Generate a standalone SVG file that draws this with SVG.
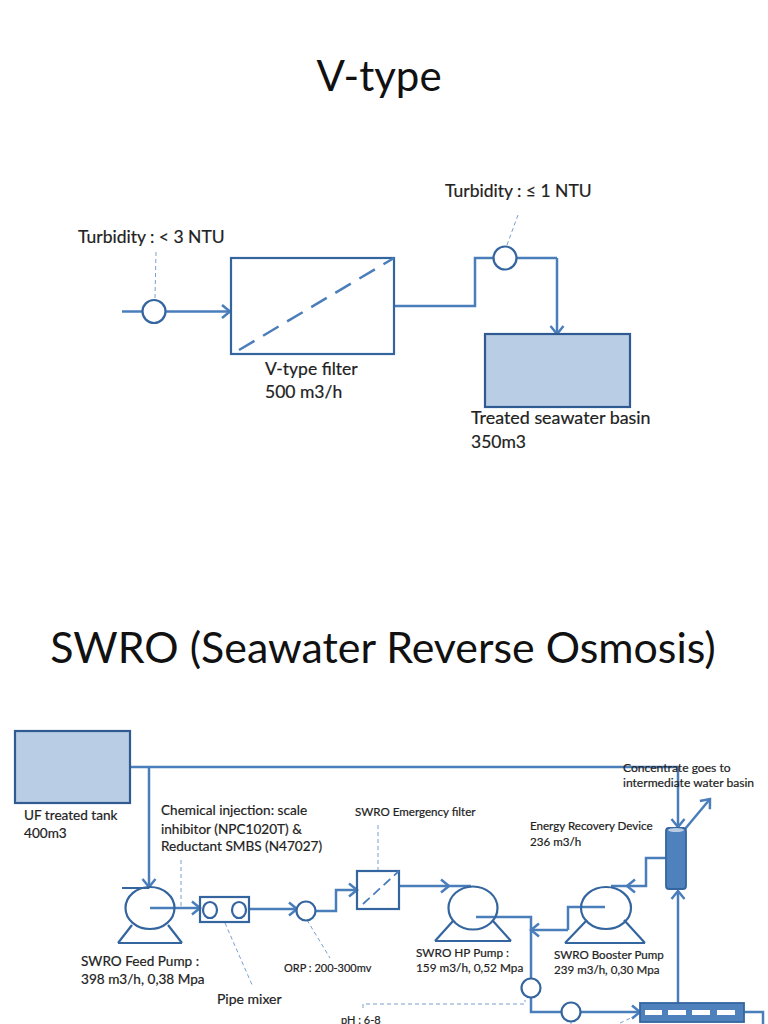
<svg xmlns="http://www.w3.org/2000/svg" width="768" height="1024" viewBox="0 0 768 1024">
<defs>
<marker id="a" markerUnits="userSpaceOnUse" markerWidth="14" markerHeight="16" refX="12" refY="8" orient="auto"><path d="M4 1.500L12 8L4 14.500" fill="none" stroke="#4a7ebb" stroke-width="2.500"/></marker>
</defs>
<style>
text{font-family:Lato,"Liberation Sans",sans-serif;fill:#222;stroke:#222;stroke-width:.2}
.t{font-size:42px;fill:#111;stroke:none}
.w{font-size:42.900px}
.m{font-size:17.500px}
.s{font-size:13.600px}
.x{font-size:11.600px}
.l{fill:none;stroke:#4a7ebb;stroke-width:2.500}
.b{fill:none;stroke:#4a7ebb;stroke-width:2.500;marker-end:url(#a)}
.d{fill:none;stroke:#7a9fcf;stroke-width:1;stroke-dasharray:4 3}
.n{fill:#fff;stroke:#34659f;stroke-width:2.200}
.p{fill:none;stroke:#34659f;stroke-width:2.200}
.f{fill:#b9cde5;stroke:#2f5a92;stroke-width:2.200}
</style>
<text class="t" x="379" y="91" text-anchor="middle">V-type</text>
<text class="t w" x="383" y="663" text-anchor="middle">SWRO (Seawater Reverse Osmosis)</text>
<g id="connectors">
<path class="b" d="M122 311.500H230"/>
<path class="l" d="M394 306H475V258H557"/>
<path class="b" d="M557 258V334"/>
<path class="d" d="M156 252L155 298"/>
<path class="d" d="M518 215L507 245"/>
<path class="l" d="M130 767H678"/>
<path class="b" d="M149 767V887"/>
<path class="b" d="M678 767V827"/>
<path class="b" d="M685 829L710 799"/>
<path class="b" d="M150 908H200"/>
<path class="b" d="M249 909H297"/>
<path class="b" d="M315 911H336V890H357"/>
<path class="b" d="M399 886H449"/>
<path class="l" d="M449 886H471"/>
<path class="l" d="M476 917H531V978"/>
<path class="b" d="M666 858H646V886H627"/>
<path class="l" d="M627 886H611"/>
<path class="l" d="M605 907H568V930"/>
<path class="b" d="M568 930H531"/>
<path class="l" d="M531 997V1012H562"/>
<path class="b" d="M580 1012H640"/>
<path class="b" d="M678 1003V891"/>
<path class="l" d="M744 1012H763V1024"/>
<path class="d" d="M181 860V907"/>
<path class="d" d="M225 923L253 987"/>
<path class="d" d="M307 920L330 958"/>
<path class="d" d="M378 825V871"/>
<path class="d" d="M363 1008V1004H525V1000" stroke-width="1.300"/>
<path class="d" d="M571 1022V1024M620 1023L633 1017"/>
</g>
<g id="vtype-turbidity-in"><circle class="n" cx="154" cy="311.500" r="11.500"/><text class="m" x="78" y="243">Turbidity : &lt; 3 NTU</text></g>
<g id="vtype-filter"><rect x="231" y="258" width="163" height="96" fill="#fff" stroke="#34659f" stroke-width="2.200"/><path d="M239 350L394 258" fill="none" stroke="#4a7ebb" stroke-width="2.500" stroke-dasharray="18 10"/><text class="m" x="265" y="375">V-type filter</text><text class="m" x="265" y="398">500 m3/h</text></g>
<g id="vtype-turbidity-out"><circle class="n" cx="505" cy="258" r="11.500"/><text class="m" x="445" y="197">Turbidity : ≤ 1 NTU</text></g>
<g id="treated-basin"><rect class="f" x="485" y="334" width="145" height="73"/><text x="471" y="424" font-size="17.900">Treated seawater basin</text><text x="471" y="448" font-size="17.500">350m3</text></g>
<g id="uf-tank"><rect class="f" x="15" y="731" width="115" height="72"/><text class="s" x="24" y="820">UF treated tank</text><text class="s" x="24" y="838">400m3</text></g>
<g id="feed-pump"><path class="p" d="M118 943L132 925M182 943L168 925M118 943H182M122 888H149"/><ellipse class="p" cx="150" cy="908" rx="24.500" ry="21"/><text class="s" x="81" y="966">SWRO Feed Pump :</text><text class="s" x="81" y="984">398 m3/h, 0,38 Mpa</text></g>
<g id="chemical"><text class="s" x="161" y="815">Chemical injection: scale</text><text class="s" x="161" y="834">inhibitor (NPC1020T) &amp;</text><text class="s" x="161" y="851">Reductant SMBS (N47027)</text></g>
<g id="pipe-mixer"><rect class="p" x="200" y="897" width="49" height="25" fill="#fff" stroke-width="2.600"/><ellipse class="p" cx="210" cy="910" rx="7" ry="8"/><ellipse class="p" cx="239" cy="910" rx="7" ry="8"/><text x="217" y="1004" font-size="14">Pipe mixer</text></g>
<g id="orp"><circle class="n" cx="306" cy="911" r="9.500"/><text x="284" y="972" font-size="11">ORP : 200-300mv</text></g>
<g id="emergency-filter"><rect class="p" x="357" y="871" width="42" height="38" fill="#fff"/><path d="M363 904L399 871" fill="none" stroke="#4a7ebb" stroke-width="1.800" stroke-dasharray="9 5"/><text class="x" x="355" y="816">SWRO Emergency filter</text></g>
<g id="hp-pump"><path class="p" d="M435 941L453 921M511 941L493 921M435 941H511"/><ellipse class="p" cx="473" cy="908" rx="24.500" ry="21.500"/><text x="416" y="957" font-size="11.800">SWRO HP Pump :</text><text x="416" y="972" font-size="11.800">159 m3/h, 0,52 Mpa</text></g>
<g id="booster-pump"><path class="p" d="M565 943L587 920M645 943L624 920M565 943H645"/><ellipse class="p" cx="606" cy="908" rx="25" ry="21"/><text class="x" x="554" y="959">SWRO Booster Pump</text><text class="x" x="554" y="974">239 m3/h, 0,30 Mpa</text></g>
<g id="erd"><rect x="666" y="828" width="20" height="61" rx="3" fill="#4f81bd" stroke="#34659f" stroke-width="1.800"/><ellipse cx="676" cy="830" rx="8" ry="2" fill="#b9cde5"/><text class="x" x="530" y="830">Energy Recovery Device</text><text class="x" x="530" y="846">236 m3/h</text></g>
<g id="concentrate"><text x="623" y="772" font-size="12.100">Concentrate goes to</text><text x="623" y="787" font-size="12.100">intermediate water basin</text></g>
<g id="ph-sensor"><circle class="n" cx="531" cy="988" r="9.500"/><text x="341" y="1024" font-size="11">pH : 6-8</text></g>
<g id="sensor-2"><circle class="n" cx="571" cy="1012" r="9.500"/></g>
<g id="ro-rack"><rect x="640" y="1003" width="104" height="19" fill="#4f81bd" stroke="#34659f" stroke-width="1.800"/><rect x="645" y="1010" width="17" height="5" fill="#fff"/><rect x="668" y="1010" width="18" height="5" fill="#fff"/><rect x="692" y="1010" width="18" height="5" fill="#fff"/><rect x="717" y="1010" width="18" height="5" fill="#fff"/></g>
</svg>
